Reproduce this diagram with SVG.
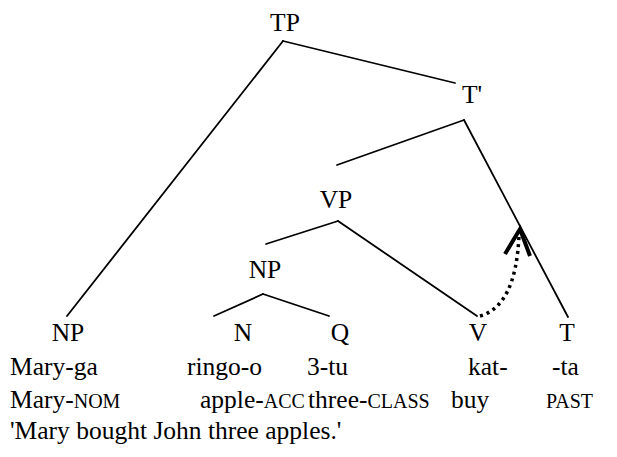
<svg xmlns="http://www.w3.org/2000/svg" width="617" height="457" viewBox="0 0 617 457" font-family="Liberation Serif, Times New Roman, Tinos, DejaVu Serif, serif">
  <style>
    .t { font-size: 25.5px; fill: #000; }
    .lbl { text-anchor: middle; }
    .sc { font-size: 20px; }
    .edge { stroke: #000; stroke-width: 1.8; fill: none; stroke-linecap: round; }
  </style>

  <!-- tree node labels -->
  <g id="node-TP" class="t"><text class="lbl" x="285" y="31">TP</text></g>
  <g id="node-Tbar" class="t"><text class="lbl" x="472" y="103">T'</text></g>
  <g id="node-VP" class="t"><text class="lbl" x="336" y="208">VP</text></g>
  <g id="node-NP-obj" class="t"><text class="lbl" x="265" y="278">NP</text></g>
  <g id="node-NP-subj" class="t"><text class="lbl" x="68" y="341">NP</text></g>
  <g id="node-N" class="t"><text class="lbl" x="243" y="341">N</text></g>
  <g id="node-Q" class="t"><text class="lbl" x="340" y="341">Q</text></g>
  <g id="node-V" class="t"><text class="lbl" x="478" y="341">V</text></g>
  <g id="node-T" class="t"><text class="lbl" x="567" y="341">T</text></g>

  <!-- branches and the head-movement arrow -->
  <g id="connectors">
    <line class="edge" x1="283" y1="41" x2="67" y2="316"/>
    <line class="edge" x1="283" y1="41" x2="455" y2="83"/>
    <line class="edge" x1="464" y1="120" x2="337" y2="165"/>
    <line class="edge" x1="464" y1="120" x2="568" y2="317"/>
    <line class="edge" x1="338" y1="221" x2="266" y2="244"/>
    <line class="edge" x1="338" y1="221" x2="477" y2="316"/>
    <line class="edge" x1="263" y1="294" x2="214" y2="316"/>
    <line class="edge" x1="263" y1="294" x2="329" y2="316"/>
    <path d="M480 316 Q516 306 519 235" fill="none" stroke="#000" stroke-width="3.5" stroke-dasharray="3 4"/>
    <polyline points="505,254 520,229 530,256" fill="none" stroke="#000" stroke-width="4" stroke-linejoin="miter"/>
  </g>

  <!-- interlinear gloss -->
  <g id="gloss" class="t">
    <text x="10" y="375">Mary-ga</text>
    <text x="187" y="375">ringo-o</text>
    <text x="307" y="375">3-tu</text>
    <text x="468" y="375">kat-</text>
    <text x="552" y="375">-ta</text>

    <text x="10" y="408">Mary-<tspan class="sc">NOM</tspan></text>
    <text x="200" y="408">apple-<tspan class="sc">ACC</tspan></text>
    <text x="308" y="408">three-<tspan class="sc">CLASS</tspan></text>
    <text x="451" y="408">buy</text>
    <text class="sc" x="546" y="408">PAST</text>

    <text x="10" y="439">'Mary bought John three apples.'</text>
  </g>
</svg>
